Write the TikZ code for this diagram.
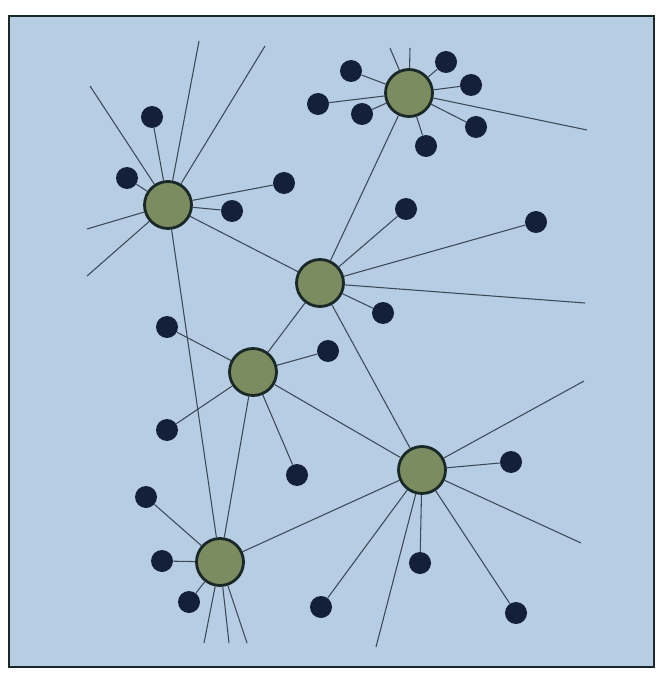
\documentclass[tikz,border=0pt]{standalone}
\usepackage{xcolor}
\definecolor{paper}{RGB}{182,205,228}
\definecolor{hubgreen}{RGB}{122,140,96}
\definecolor{navy}{RGB}{20,32,58}
\definecolor{rim}{RGB}{26,40,40}
\definecolor{wiregray}{RGB}{60,72,84}

\begin{document}
\begin{tikzpicture}[x=0.02cm,y=-0.02cm,
  hub/.style={circle,draw=rim,line width=1.6pt,fill=hubgreen,minimum size=0.94cm,inner sep=0pt},
  dot/.style={circle,fill=navy,minimum size=0.44cm,inner sep=0pt},
  wire/.style={draw=wiregray,line width=0.6pt}]
  \useasboundingbox (0,0) rectangle (657,675);
  \draw[line width=1.2pt,draw=rim,fill=paper] (9,16) rectangle (654,667);

  % the six hubs
  \node[hub] (h1) at (168,205) {};
  \node[hub] (h2) at (409,93) {};
  \node[hub] (h3) at (320,283) {};
  \node[hub] (h4) at (253,372) {};
  \node[hub] (h5) at (422,470) {};
  \node[hub] (h6) at (220,562) {};

  % hub to hub
  \foreach \a/\b in {h1/h3,h1/h6,h2/h3,h3/h4,h3/h5,h4/h5,h4/h6,h5/h6}
    \draw[wire] (\a) -- (\b);

  % small dots on their hub
  \foreach \h/\n/\x/\y in {h1/d1/152/117,h1/d2/127/178,h1/d3/284/183,h1/d4/232/211,
      h2/d5/351/71,h2/d6/446/62,h2/d7/471/85,h2/d8/476/127,h2/d9/426/146,
      h2/d10/362/114,h2/d11/318/104,
      h3/d12/406/209,h3/d13/536/222,h3/d14/383/313,
      h4/d15/167/327,h4/d16/167/430,h4/d17/297/475,h4/d18/328/351,
      h5/d19/511/462,h5/d20/420/563,h5/d21/516/613,h5/d22/321/607,
      h6/d23/146/497,h6/d24/162/561,h6/d25/189/602} {
    \node[dot] (\n) at (\x,\y) {};
    \draw[wire] (\h) -- (\n);
  }

  % loose lines
  \foreach \h/\n/\x/\y in {h1/e1/90/86,h1/e2/199/41,h1/e3/265/46,h1/e4/87/229,h1/e5/87/276,
      h2/e6/390/48,h2/e7/410/48,h2/e8/587/130,
      h3/e9/585/303,
      h5/e10/584/381,h5/e11/581/543,h5/e12/376/647,
      h6/e13/204/643,h6/e14/229/643,h6/e15/247/643} {
    \coordinate (\n) at (\x,\y);
    \draw[wire] (\h) -- (\n);
  }
\end{tikzpicture}
\end{document}
